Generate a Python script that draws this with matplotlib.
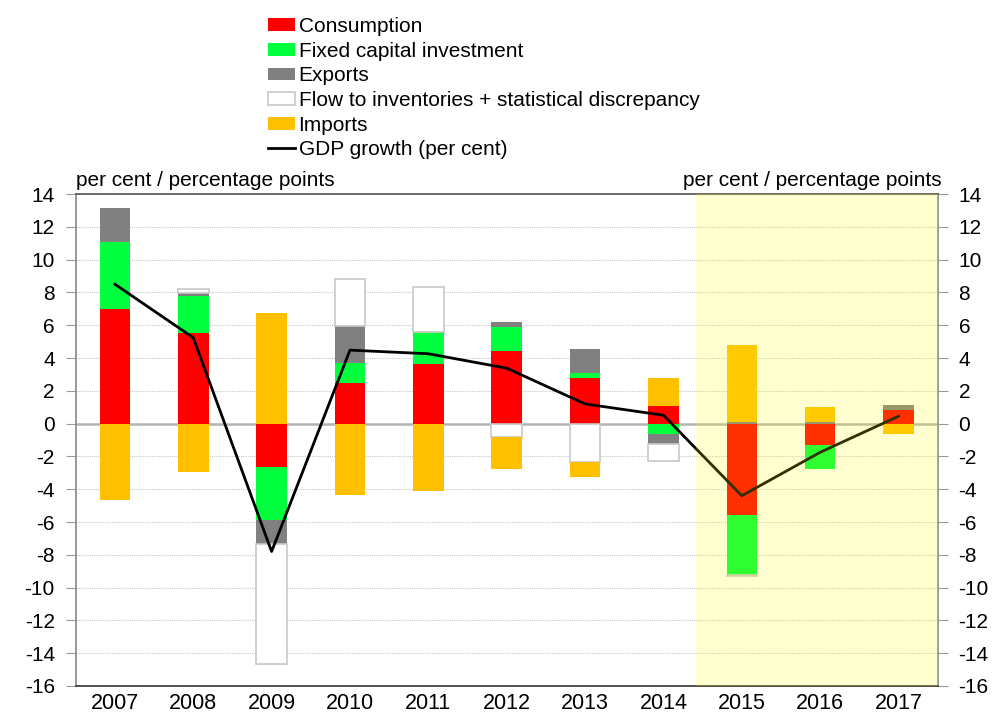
import numpy as np
import matplotlib
matplotlib.use("Agg")
import matplotlib.pyplot as plt
from matplotlib.patches import Patch
from matplotlib.lines import Line2D

plt.rcParams['font.family'] = ['Liberation Sans', 'DejaVu Sans']
plt.rcParams['axes.unicode_minus'] = False

years = ["2007", "2008", "2009", "2010", "2011", "2012", "2013", "2014", "2015", "2016", "2017"]

consumption = [7.0, 5.54, -2.63, 2.47, 3.63, 4.42, 2.77, 1.1, -5.58, -1.28, 0.82]
fixed_capital = [4.05, 2.24, -3.22, 1.24, 1.97, 1.45, 0.29, -0.61, -3.67, -1.51, 0.0]
exports = [2.1, 0.2, -1.51, 2.22, 0.0, 0.35, 1.48, -0.63, 0.1, 0.12, 0.32]
flow_inventories = [0.0, 0.25, -7.27, 2.87, 2.75, -0.84, -2.34, -1.04, -0.06, 0.0, 0.0]
imports = [-4.66, -2.98, 6.72, -4.36, -4.1, -1.95, -0.94, 1.71, 4.7, 0.9, -0.65]
gdp_growth = [8.5, 5.24, -7.8, 4.48, 4.26, 3.38, 1.2, 0.51, -4.4, -1.75, 0.45]

series = [
    ("Consumption", consumption, "#FF0000", "#FF0000"),
    ("Fixed capital investment", fixed_capital, "#00FF3C", "#00FF3C"),
    ("Exports", exports, "#808080", "#808080"),
    ("Flow to inventories + statistical discrepancy", flow_inventories, "#FFFFFF", "#C8C8C8"),
    ("Imports", imports, "#FFC000", "#FFC000"),
]

fig = plt.figure(figsize=(10.04, 7.28), dpi=100)
ax = fig.add_axes([0.0754, 0.0577, 0.8586, 0.6758])

x = np.arange(len(years))
pos_base = np.zeros(len(years))
neg_base = np.zeros(len(years))
handles = []
for label, vals, fc, ec in series:
    v = np.array(vals)
    bottoms = np.where(v >= 0, pos_base, neg_base)
    edge_w = 1.2 if fc == "#FFFFFF" else 0
    keep = v != 0
    ax.bar(x[keep], v[keep], width=0.39, bottom=bottoms[keep], color=fc,
           edgecolor=ec, linewidth=edge_w, zorder=3)
    pos_base = pos_base + np.where(v > 0, v, 0)
    neg_base = neg_base + np.where(v < 0, v, 0)
    handles.append(Patch(facecolor=fc, edgecolor=ec, linewidth=edge_w, label=label))

ax.plot(x, gdp_growth, color="black", linewidth=2, zorder=4)
handles.append(Line2D([0], [0], color="black", linewidth=2, label="GDP growth (per cent)"))

# forecast shading over the last years
ax.axvspan(7.42, 10.5, color="#FFFF00", alpha=0.19, linewidth=0, zorder=6)

ax.set_xlim(-0.5, 10.5)
ax.set_ylim(-16, 14)
ax.set_yticks(np.arange(-16, 15, 2))
ax.set_xticks(x)
ax.set_xticklabels(years, fontsize=15.5)
ax.tick_params(axis='x', length=0, pad=5)
ax.tick_params(axis='y', left=True, right=True, labelleft=True, labelright=True,
               direction='out', length=7, color="#999999", labelsize=15, pad=8)

ax.grid(axis='y', linestyle=(0, (1, 1)), color="#C8C8C8", linewidth=0.8, zorder=0)
ax.axhline(0, color="#B4B4B4", linewidth=1.8, zorder=2)

ax.spines['left'].set_color("#888888")
ax.spines['right'].set_color("#888888")
ax.spines['top'].set_color("#555555")
ax.spines['bottom'].set_color("#333333")
for s in ax.spines.values():
    s.set_linewidth(1.2)

ax.text(0.0, 1.008, "per cent / percentage points", transform=ax.transAxes,
        ha='left', va='bottom', fontsize=15)
ax.text(1.005, 1.008, "per cent / percentage points", transform=ax.transAxes,
        ha='right', va='bottom', fontsize=15)

fig.legend(handles=handles, loc='upper left', bbox_to_anchor=(0.2665, 0.9765),
           frameon=False, fontsize=15, handlelength=1.3, handleheight=0.58,
           handletextpad=0.19, labelspacing=0.27, borderaxespad=0, borderpad=0)

fig.savefig("out.png", dpi=100)
